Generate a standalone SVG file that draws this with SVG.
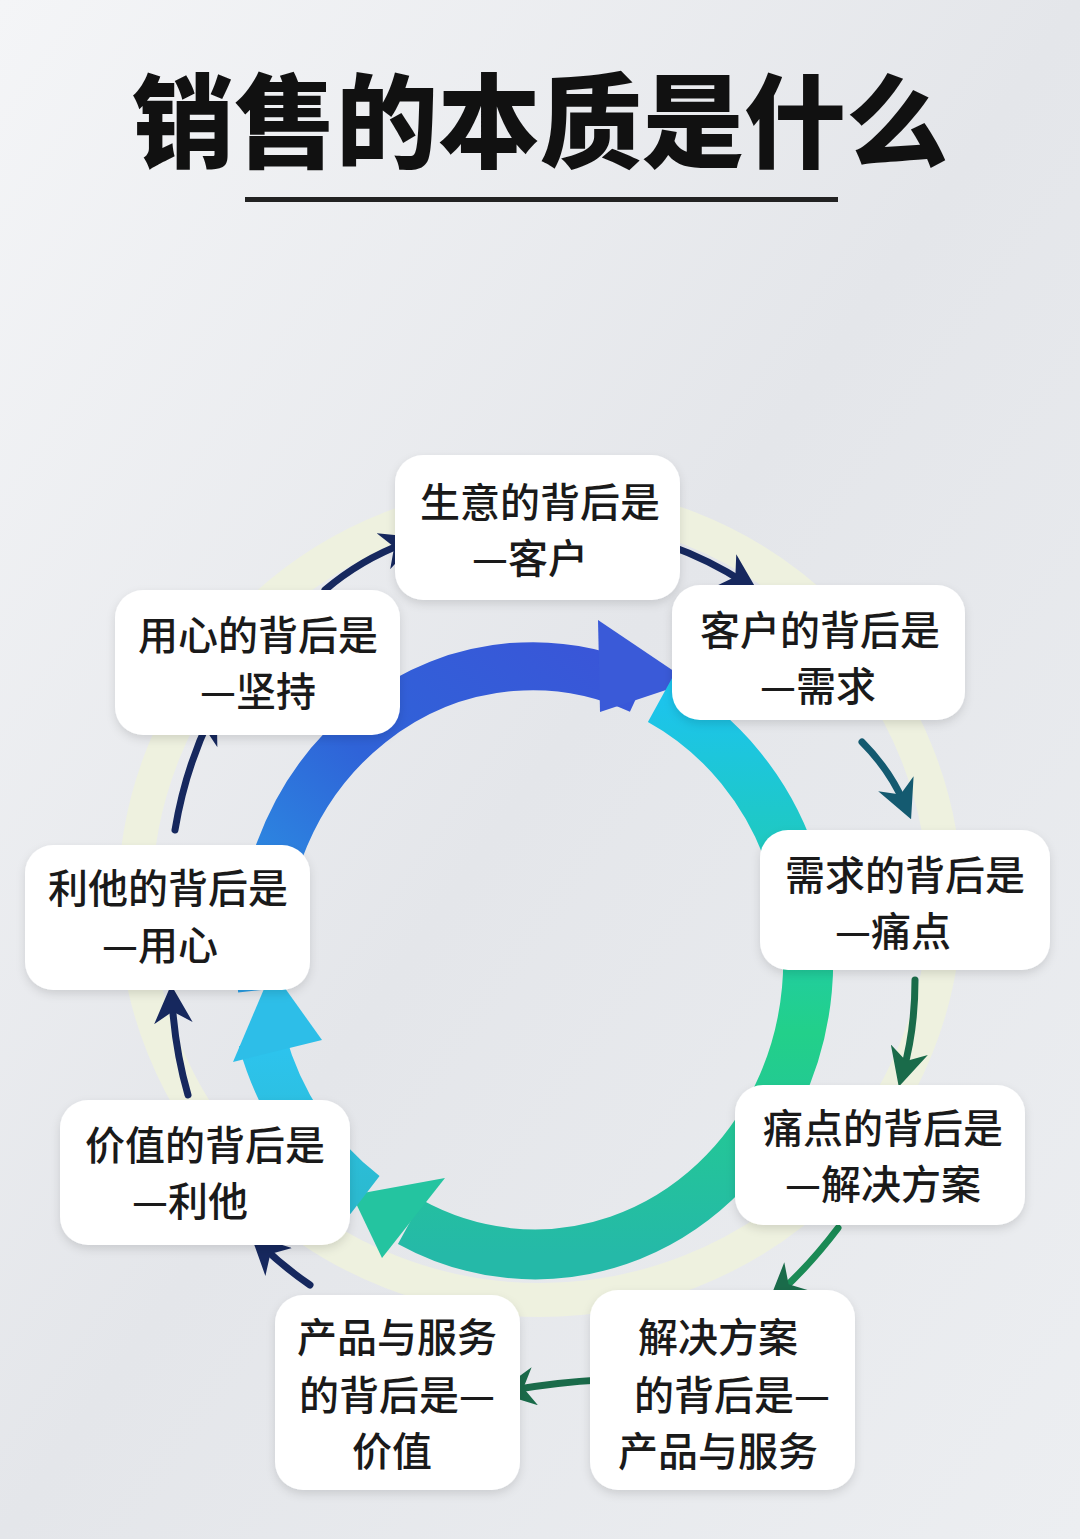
<svg xmlns="http://www.w3.org/2000/svg" width="1080" height="1539" viewBox="0 0 1080 1539">
<defs>
<linearGradient id="bg" x1="0" y1="0" x2="1" y2="1"><stop offset="0" stop-color="#f4f5f7"/><stop offset="0.5" stop-color="#e4e6ea"/><stop offset="1" stop-color="#eceef1"/></linearGradient>
<linearGradient id="gBlue" x1="0" y1="1" x2="1" y2="0"><stop offset="0" stop-color="#2a9fe6"/><stop offset="0.5" stop-color="#2f63d8"/><stop offset="1" stop-color="#3a55d8"/></linearGradient>
<linearGradient id="gGreen" x1="0" y1="0" x2="0" y2="1"><stop offset="0" stop-color="#1cc4ec"/><stop offset="0.6" stop-color="#22d08a"/><stop offset="1" stop-color="#25b9a8"/></linearGradient>
<linearGradient id="gCyan" x1="0" y1="1" x2="0" y2="0"><stop offset="0" stop-color="#2bbad0"/><stop offset="1" stop-color="#2dc4ef"/></linearGradient>
<marker id="mN" viewBox="0 0 10 10" refX="6" refY="5" markerWidth="5.5" markerHeight="5.5" orient="auto"><path d="M0,0 L10,5 L0,10 L3,5 Z" fill="#16285e"/></marker>
<marker id="mG" viewBox="0 0 10 10" refX="6" refY="5" markerWidth="5.5" markerHeight="5.5" orient="auto"><path d="M0,0 L10,5 L0,10 L3,5 Z" fill="#1a6b4a"/></marker>
<marker id="mT" viewBox="0 0 10 10" refX="6" refY="5" markerWidth="5.5" markerHeight="5.5" orient="auto"><path d="M0,0 L10,5 L0,10 L3,5 Z" fill="#145a70"/></marker>
<filter id="sh" x="-10%" y="-10%" width="120%" height="130%"><feDropShadow dx="0" dy="4" stdDeviation="5" flood-color="#000" flood-opacity="0.12"/></filter>
</defs>
<style>
.box{fill:#fff;filter:url(#sh)}
.t{font-family:"Noto Sans CJK SC",sans-serif;font-size:40px;font-weight:500;fill:#1a1a1a;text-anchor:middle}
.cn{fill:none;stroke-width:7;stroke-linecap:round}
</style>
<rect width="1080" height="1539" fill="url(#bg)"/>
<text x="540" y="160" font-family="Noto Sans CJK SC,sans-serif" font-size="102" font-weight="900" fill="#111" text-anchor="middle">销售的本质是什么</text>
<rect x="245" y="197" width="593" height="5" fill="#222"/>
<g id="ring">
<ellipse cx="540" cy="900" rx="405" ry="400" fill="none" stroke="#eef1df" stroke-width="34"/>
<path d="M262,990 A272,292 0 0 1 640,690" fill="none" stroke="url(#gBlue)" stroke-width="48"/>
<path d="M598,620 L690,682 L600,712 Z" fill="#3a5ad8"/>
<path d="M660,700 A272,292 0 0 1 410,1222" fill="none" stroke="url(#gGreen)" stroke-width="50"/>
<path d="M445,1178 L352,1195 L382,1258 Z" fill="#24c4a0"/>
<path d="M365,1195 A272,292 0 0 1 262,1040" fill="none" stroke="url(#gCyan)" stroke-width="48"/>
<path d="M233,1062 L272,970 L322,1040 Z" fill="#2dbee8"/>
</g>
<g id="connectors">
<path class="cn" d="M325,590 Q360,560 405,543" stroke="#16285e" marker-end="url(#mN)"/>
<path class="cn" d="M668,545 Q710,560 745,583" stroke="#16285e" marker-end="url(#mN)"/>
<path class="cn" d="M862,742 Q890,770 905,805" stroke="#145a70" marker-end="url(#mT)"/>
<path class="cn" d="M915,980 Q915,1030 903,1072" stroke="#1a6b4a" marker-end="url(#mG)"/>
<path class="cn" d="M838,1228 Q810,1265 780,1292" stroke="#1a8a55" marker-end="url(#mG)"/>
<path class="cn" d="M600,1380 Q560,1382 512,1390" stroke="#1a6b4a" marker-end="url(#mG)"/>
<path class="cn" d="M310,1285 Q285,1268 262,1246" stroke="#16285e" marker-end="url(#mN)"/>
<path class="cn" d="M188,1095 Q175,1050 172,1000" stroke="#16285e" marker-end="url(#mN)"/>
<path class="cn" d="M175,830 Q185,770 210,718" stroke="#16285e" marker-end="url(#mN)"/>
</g>
<g id="n1"><rect class="box" x="395" y="455" width="285" height="145" rx="28"/><text class="t" x="540" y="517">生意的背后是</text><text class="t" x="530" y="573">—客户</text></g>
<g id="n2"><rect class="box" x="672" y="585" width="293" height="135" rx="28"/><text class="t" x="820" y="645">客户的背后是</text><text class="t" x="818" y="701">—需求</text></g>
<g id="n3"><rect class="box" x="760" y="830" width="290" height="140" rx="28"/><text class="t" x="905" y="890">需求的背后是</text><text class="t" x="893" y="946">—痛点</text></g>
<g id="n4"><rect class="box" x="735" y="1085" width="290" height="140" rx="28"/><text class="t" x="883" y="1143">痛点的背后是</text><text class="t" x="883" y="1199">—解决方案</text></g>
<g id="n5"><rect class="box" x="590" y="1290" width="265" height="200" rx="28"/><text class="t" x="718" y="1352">解决方案</text><text class="t" x="732" y="1410">的背后是—</text><text class="t" x="718" y="1466">产品与服务</text></g>
<g id="n6"><rect class="box" x="275" y="1295" width="245" height="195" rx="28"/><text class="t" x="397" y="1352">产品与服务</text><text class="t" x="397" y="1410">的背后是—</text><text class="t" x="392" y="1466">价值</text></g>
<g id="n7"><rect class="box" x="60" y="1100" width="290" height="145" rx="28"/><text class="t" x="205" y="1160">价值的背后是</text><text class="t" x="190" y="1216">—利他</text></g>
<g id="n8"><rect class="box" x="25" y="845" width="285" height="145" rx="28"/><text class="t" x="168" y="903">利他的背后是</text><text class="t" x="160" y="960">—用心</text></g>
<g id="n9"><rect class="box" x="115" y="590" width="285" height="145" rx="28"/><text class="t" x="258" y="650">用心的背后是</text><text class="t" x="258" y="706">—坚持</text></g>
</svg>
